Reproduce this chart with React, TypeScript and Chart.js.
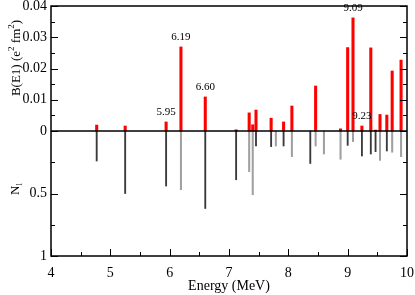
import React, { useEffect, useRef } from 'react';
import { Chart, registerables } from 'chart.js';

Chart.register(...registerables);

// ---- data ----
const redEnergies = [4.77, 5.25, 5.94, 6.19, 6.60, 7.12, 7.34, 7.40, 7.455, 7.71, 7.92, 8.06, 8.46, 8.88, 9.00, 9.09, 9.24, 9.39, 9.47, 9.545, 9.66, 9.75, 9.90];
const redBE1 = [0.0019, 0.0016, 0.0029, 0.0269, 0.0109, 0.0004, 0.0058, 0.0020, 0.0067, 0.0041, 0.0029, 0.0080, 0.0144, 0.0007, 0.0267, 0.0362, 0.0016, 0.0266, 0.0003, 0.0053, 0.0051, 0.0192, 0.0227];

const darkEnergies = [4.77, 5.25, 5.94, 6.60, 7.12, 7.455, 7.71, 7.92, 8.37, 9.00, 9.24, 9.39, 9.47, 9.66];
const darkNl = [0.24, 0.50, 0.44, 0.62, 0.39, 0.12, 0.125, 0.12, 0.26, 0.115, 0.20, 0.184, 0.165, 0.16];

const grayEnergies = [6.19, 7.34, 7.40, 7.79, 8.06, 8.46, 8.60, 8.88, 9.09, 9.545, 9.75, 9.90];
const grayNl = [0.47, 0.325, 0.51, 0.12, 0.205, 0.12, 0.184, 0.226, 0.085, 0.235, 0.17, 0.205];

const xTickValues = [4, 5, 6, 7, 8, 9, 10];
const upperTickValues = [0, 0.01, 0.02, 0.03, 0.04];
const upperTickLabels = ['0', '0.01', '0.02', '0.03', '0.04'];
const lowerTickValues = [0, 0.5, 1];
const lowerTickLabels = ['0', '0.5', '1'];

const peakLabels = ['5.95', '6.19', '6.60', '9.09', '9.23'];
const peakEnergies = [5.94, 6.19, 6.60, 9.09, 9.24];

const B_MAX = 0.04;
const N_MAX = 1;
const FONT = '"Liberation Serif", "Times New Roman", serif';

type YTick = { value: number; label: string; major: boolean };

function buildYTicks(): YTick[] {
  const out: YTick[] = [];
  upperTickValues.forEach((v, i) => {
    out.push({ value: v / B_MAX, label: upperTickLabels[i], major: true });
    if (i > 0) out.push({ value: (v + upperTickValues[i - 1]) / 2 / B_MAX, label: '', major: false });
  });
  lowerTickValues.forEach((v, i) => {
    if (v !== 0) out.push({ value: -v / N_MAX, label: lowerTickLabels[i], major: true });
    if (i > 0) out.push({ value: -(v + lowerTickValues[i - 1]) / 2 / N_MAX, label: '', major: false });
  });
  return out.sort((a, b) => a.value - b.value);
}
const yTicks = buildYTicks();

const framePlugin = {
  id: 'framePlugin',
  afterDatasetsDraw(chart: any) {
    const { ctx, chartArea, scales } = chart;
    const { left, right, top, bottom } = chartArea;
    const x = scales.x;
    const y = scales.y;
    ctx.save();
    ctx.strokeStyle = '#000';
    ctx.lineWidth = 1.5;
    // zero line
    const y0 = y.getPixelForValue(0);
    ctx.beginPath();
    ctx.moveTo(left, y0);
    ctx.lineTo(right, y0);
    ctx.stroke();
    // frame
    ctx.strokeRect(left, top, right - left, bottom - top);
    // inward y ticks, left and right
    ctx.lineWidth = 1;
    yTicks.forEach((t) => {
      const py = Math.round(y.getPixelForValue(t.value)) + 0.5;
      const len = t.major ? 7 : 4;
      ctx.beginPath();
      ctx.moveTo(left, py);
      ctx.lineTo(left + len, py);
      ctx.moveTo(right, py);
      ctx.lineTo(right - len, py);
      ctx.stroke();
    });
    // inward x ticks, bottom
    xTickValues.forEach((v, i) => {
      const px = Math.round(x.getPixelForValue(v)) + 0.5;
      ctx.beginPath();
      ctx.moveTo(px, bottom);
      ctx.lineTo(px, bottom - 7);
      ctx.stroke();
      if (i > 0) {
        const pm = Math.round(x.getPixelForValue((v + xTickValues[i - 1]) / 2)) + 0.5;
        ctx.beginPath();
        ctx.moveTo(pm, bottom);
        ctx.lineTo(pm, bottom - 4);
        ctx.stroke();
      }
    });
    // peak annotations
    ctx.fillStyle = '#000';
    ctx.font = `11px ${FONT}`;
    ctx.textAlign = 'center';
    ctx.textBaseline = 'middle';
    peakEnergies.forEach((e, i) => {
      let j = 0;
      redEnergies.forEach((r, k) => {
        if (Math.abs(r - e) < Math.abs(redEnergies[j] - e)) j = k;
      });
      const px = x.getPixelForValue(redEnergies[j]);
      const py = y.getPixelForValue(redBE1[j] / B_MAX);
      ctx.fillText(peakLabels[i], px, py - 10);
    });
    ctx.restore();
  },
  afterDraw(chart: any) {
    const { ctx } = chart;
    ctx.save();
    ctx.fillStyle = '#000';
    ctx.textBaseline = 'alphabetic';
    ctx.textAlign = 'left';
    // B(E1) (e^2 fm^2)
    const parts: [string, boolean][] = [['B(E1) (e', false], ['2', true], [' fm', false], ['2', true], [')', false]];
    const mainF = `13px ${FONT}`;
    const supF = `9px ${FONT}`;
    let total = 0;
    parts.forEach(([t, s]) => {
      ctx.font = s ? supF : mainF;
      total += ctx.measureText(t).width;
    });
    ctx.translate(20, 58);
    ctx.rotate(-Math.PI / 2);
    let cx = -total / 2;
    parts.forEach(([t, s]) => {
      ctx.font = s ? supF : mainF;
      ctx.fillText(t, cx, s ? -6 : 0);
      cx += ctx.measureText(t).width;
    });
    ctx.restore();
    // N_l
    ctx.save();
    ctx.fillStyle = '#000';
    ctx.textBaseline = 'alphabetic';
    ctx.font = `13px ${FONT}`;
    const nw = ctx.measureText('N').width;
    ctx.font = `9px ${FONT}`;
    const lw = ctx.measureText('l').width;
    ctx.translate(19, 189);
    ctx.rotate(-Math.PI / 2);
    const sx = -(nw + lw) / 2;
    ctx.font = `13px ${FONT}`;
    ctx.fillText('N', sx, 0);
    ctx.font = `9px ${FONT}`;
    ctx.fillText('l', sx + nw, 3);
    ctx.restore();
  },
};

export default function App() {
  const ref = useRef<HTMLCanvasElement | null>(null);
  useEffect(() => {
    document.body.style.margin = '0';
    const canvas = ref.current;
    if (!canvas) return;
    const tickFont = { family: FONT, size: 14 };
    const chart = new Chart(canvas, {
      type: 'bar',
      data: {
        datasets: [
          {
            label: 'Nl dark',
            data: darkEnergies.map((e, i) => ({ x: e, y: [0, -darkNl[i] / N_MAX] })) as any,
            backgroundColor: '#3a3a3a',
            barThickness: 1.2,
            grouped: false,
            order: 3,
          },
          {
            label: 'Nl gray',
            data: grayEnergies.map((e, i) => ({ x: e, y: [0, -grayNl[i] / N_MAX] })) as any,
            backgroundColor: '#a0a0a0',
            barThickness: 1.4,
            grouped: false,
            order: 2,
          },
          {
            label: 'B(E1)',
            data: redEnergies.map((e, i) => ({ x: e, y: [0, redBE1[i] / B_MAX] })) as any,
            backgroundColor: '#ff0000',
            barThickness: 2.4,
            grouped: false,
            order: 1,
          },
        ],
      },
      options: {
        responsive: false,
        animation: false,
        devicePixelRatio: 1,
        layout: { padding: { left: 0, right: 8, top: 6, bottom: 0 } },
        plugins: { legend: { display: false }, tooltip: { enabled: false } },
        scales: {
          x: {
            type: 'linear',
            min: 4,
            max: 10,
            offset: false,
            grid: { display: false, drawTicks: false },
            border: { display: false },
            ticks: {
              padding: 9,
              color: '#000',
              font: tickFont,
              maxRotation: 0,
              autoSkip: false,
              callback: (v: any) => String(v),
            },
            title: {
              display: true,
              text: 'Energy (MeV)',
              color: '#000',
              font: tickFont,
              padding: { top: 0, bottom: 0 },
            },
            afterBuildTicks: (s: any) => {
              s.ticks = xTickValues.map((v) => ({ value: v }));
            },
            afterFit: (s: any) => {
              s.height = 39;
              s.paddingLeft = 0;
              s.paddingRight = 0;
            },
          },
          y: {
            type: 'linear',
            min: -1,
            max: 1,
            grid: { display: false, drawTicks: false },
            border: { display: false },
            ticks: {
              padding: 4,
              color: '#000',
              font: tickFont,
              autoSkip: false,
              callback: (v: any) => {
                const t = yTicks.find((k) => Math.abs(k.value - Number(v)) < 1e-9);
                return t ? t.label : '';
              },
            },
            afterBuildTicks: (s: any) => {
              s.ticks = yTicks.map((t) => ({ value: t.value }));
            },
            afterFit: (s: any) => {
              s.width = 51;
              s.paddingTop = 0;
              s.paddingBottom = 0;
            },
          },
        },
      } as any,
      plugins: [framePlugin],
    });
    return () => chart.destroy();
  }, []);
  return (
    <div style={{ position: 'absolute', left: 0, top: 0, width: 415, height: 295, background: '#fff' }}>
      <canvas ref={ref} width={415} height={295} />
    </div>
  );
}
